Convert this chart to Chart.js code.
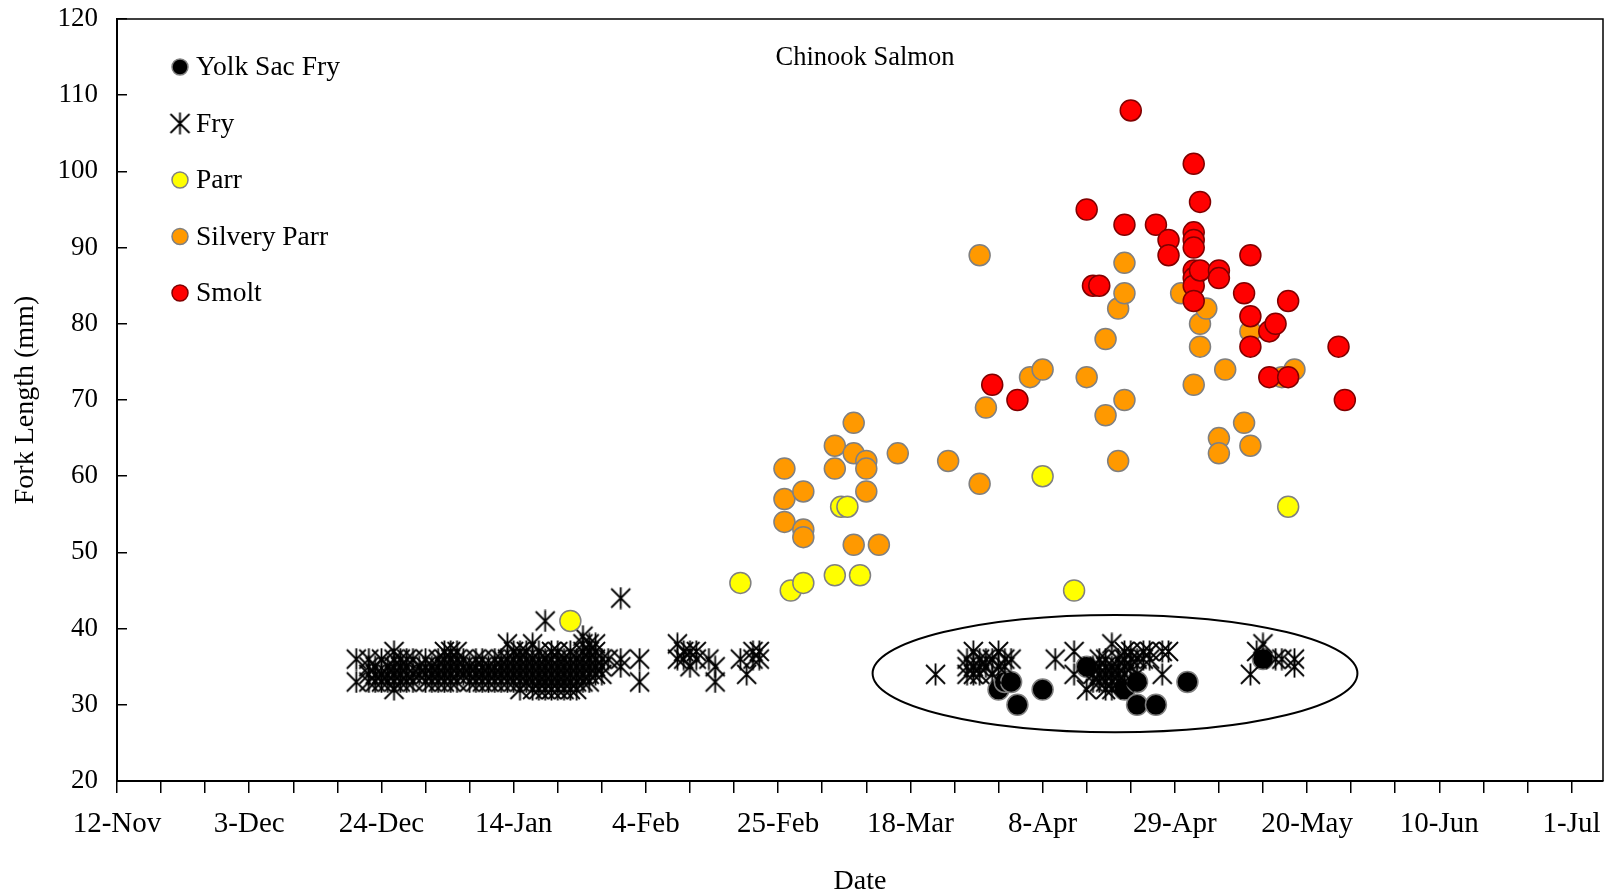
<!DOCTYPE html>
<html>
<head>
<meta charset="utf-8">
<title>Chinook Salmon fork length</title>
<script src="https://cdn.jsdelivr.net/npm/chart.js@4/dist/chart.umd.min.js"></script>
<style>
  html, body { margin: 0; padding: 0; background: #fff; }
</style>
</head>
<body>
<canvas id="lengthChart" width="1610" height="896"></canvas>
<script>
// x axis labels, one every three weeks from 12-Nov
const tickLabels = ["12-Nov", "3-Dec", "24-Dec", "14-Jan", "4-Feb", "25-Feb",
  "18-Mar", "8-Apr", "29-Apr", "20-May", "10-Jun", "1-Jul"];

// each row: capture date, fork lengths (mm) measured that day
const yolkSacFry = [
  ["1-Apr", [32]], ["2-Apr", [33]], ["3-Apr", [33]], ["4-Apr", [30]], ["8-Apr", [32]],
  ["15-Apr", [35]], ["21-Apr", [32]], ["23-Apr", [33, 30]], ["26-Apr", [30]],
  ["1-May", [33]], ["13-May", [36]]
];

const fry = [
  ["20-Dec", [36, 33]],
  ["22-Dec", [36, 35, 34, 33]],
  ["23-Dec", [35, 34, 33]],
  ["24-Dec", [36, 34, 33]],
  ["25-Dec", [35, 34, 33]],
  ["26-Dec", [37, 36, 35, 34, 33, 32]],
  ["27-Dec", [36, 35, 34, 33]],
  ["28-Dec", [36, 35, 34, 33]],
  ["29-Dec", [36, 34, 33]],
  ["30-Dec", [35, 34]],
  ["31-Dec", [36, 35, 34, 33]],
  ["1-Jan", [35, 34, 33]],
  ["2-Jan", [36, 35, 34, 33]],
  ["3-Jan", [37, 36, 35, 34, 33]],
  ["4-Jan", [37, 36, 35, 34, 33]],
  ["5-Jan", [37, 36, 35, 34, 33]],
  ["6-Jan", [36, 35, 34]],
  ["7-Jan", [35, 34, 33]],
  ["8-Jan", [36, 35, 34, 33]],
  ["9-Jan", [36, 35, 34, 33]],
  ["10-Jan", [35, 34, 33]],
  ["11-Jan", [36, 35, 34, 33]],
  ["12-Jan", [36, 35, 34, 33]],
  ["13-Jan", [38, 36, 35, 34, 33]],
  ["14-Jan", [37, 36, 35, 34, 33]],
  ["15-Jan", [37, 36, 35, 34, 33, 32]],
  ["16-Jan", [37, 36, 35, 34, 33]],
  ["17-Jan", [38, 36, 35, 34, 33, 32]],
  ["18-Jan", [37, 36, 35, 34, 33, 32]],
  ["19-Jan", [41, 36, 35, 34, 33, 32]],
  ["20-Jan", [37, 36, 35, 34, 33, 32]],
  ["21-Jan", [37, 36, 35, 34, 33, 32]],
  ["22-Jan", [36, 35, 34, 33, 32]],
  ["23-Jan", [37, 36, 35, 34, 33, 32]],
  ["24-Jan", [36, 35, 34, 33, 32]],
  ["25-Jan", [39, 38, 37, 36, 35, 34, 33]],
  ["26-Jan", [38, 37, 36, 35, 34, 33]],
  ["27-Jan", [38, 37, 36, 35, 34]],
  ["28-Jan", [36, 35, 34]],
  ["29-Jan", [36]],
  ["31-Jan", [44, 36, 35]],
  ["3-Feb", [36, 33]],
  ["9-Feb", [38, 36]],
  ["10-Feb", [37, 36]],
  ["11-Feb", [37, 35]],
  ["12-Feb", [37, 36]],
  ["14-Feb", [36]],
  ["15-Feb", [35, 33]],
  ["19-Feb", [36]],
  ["20-Feb", [34]],
  ["21-Feb", [37, 36]],
  ["22-Feb", [37, 36]],
  ["22-Mar", [34]],
  ["27-Mar", [36, 35, 34]],
  ["28-Mar", [37, 35, 34]],
  ["29-Mar", [36, 35, 34]],
  ["30-Mar", [36, 35]],
  ["31-Mar", [36, 34]],
  ["1-Apr", [37, 35]],
  ["2-Apr", [36, 35]],
  ["3-Apr", [36]],
  ["10-Apr", [36]],
  ["13-Apr", [37, 34]],
  ["15-Apr", [32]],
  ["16-Apr", [35, 34, 33]],
  ["17-Apr", [36, 35, 34, 33]],
  ["18-Apr", [36, 35, 34, 33, 32]],
  ["19-Apr", [38, 35, 34, 33, 32]],
  ["20-Apr", [36, 35, 34, 33]],
  ["21-Apr", [37, 36, 35, 34, 33]],
  ["22-Apr", [37, 36, 35]],
  ["23-Apr", [36, 34]],
  ["24-Apr", [37, 36]],
  ["25-Apr", [37, 36]],
  ["27-Apr", [37, 34]],
  ["28-Apr", [37]],
  ["11-May", [34]],
  ["12-May", [37]],
  ["13-May", [38]],
  ["15-May", [36]],
  ["16-May", [36]],
  ["18-May", [36, 35]]
];

const parr = [
  ["23-Jan", [41]], ["19-Feb", [46]], ["27-Feb", [45]], ["1-Mar", [46]], ["6-Mar", [47]],
  ["7-Mar", [56]], ["8-Mar", [56]], ["10-Mar", [47]], ["8-Apr", [60]], ["13-Apr", [45]],
  ["17-May", [56]]
];

const silveryParr = [
  ["26-Feb", [61, 57, 54]], ["1-Mar", [58, 53, 52]], ["6-Mar", [64, 61]],
  ["9-Mar", [67, 63, 51]], ["11-Mar", [62, 61, 58]], ["13-Mar", [51]], ["16-Mar", [63]],
  ["24-Mar", [62]], ["29-Mar", [89, 59]], ["30-Mar", [69]], ["6-Apr", [73]], ["8-Apr", [74]],
  ["15-Apr", [73]], ["18-Apr", [78, 68]], ["20-Apr", [82, 62]], ["21-Apr", [88, 84, 70]],
  ["30-Apr", [84]], ["2-May", [72]], ["3-May", [80, 77]], ["4-May", [82]], ["6-May", [65, 63]],
  ["7-May", [74]], ["10-May", [67]], ["11-May", [79, 64]], ["16-May", [73]], ["18-May", [74]]
];

const smolt = [
  ["31-Mar", [72]], ["4-Apr", [70]], ["15-Apr", [95]], ["16-Apr", [85]], ["17-Apr", [85]],
  ["21-Apr", [93]], ["22-Apr", [108]], ["26-Apr", [93]], ["28-Apr", [91, 89]],
  ["2-May", [101, 92, 91, 90, 87, 86, 85, 83]], ["3-May", [96, 87]], ["6-May", [87, 86]],
  ["10-May", [84]], ["11-May", [89, 81, 77]], ["14-May", [79, 73]], ["15-May", [80]],
  ["17-May", [83, 73]], ["25-May", [77]], ["26-May", [70]]
];

// ring drawn round the late fry / yolk sac group
const ringDates = ["12-Mar", "28-May"];
const ringLengths = [26.4, 41.8];

// dates -> days since 12-Nov
const MONTHS = { Jan: 0, Feb: 1, Mar: 2, Apr: 3, May: 4, Jun: 5, Jul: 6, Nov: 10, Dec: 11 };
const START = Date.UTC(2018, 10, 12);
function dayOf(label) {
  const [d, m] = label.split("-");
  const year = MONTHS[m] >= 10 ? 2018 : 2019;
  return Math.round((Date.UTC(year, MONTHS[m], +d) - START) / 86400000);
}
const toPoints = rows => rows.flatMap(([date, lens]) => lens.map(len => ({ x: dayOf(date), y: len })));

const FONT = "'Liberation Serif', 'Times New Roman', serif";

// asterisk marker for fry (x with a vertical bar)
const fryMark = document.createElement("canvas");
fryMark.width = 23;
fryMark.height = 23;
const fm = fryMark.getContext("2d");
fm.strokeStyle = "#000";
fm.lineWidth = 1.8;
fm.beginPath();
fm.moveTo(2, 2); fm.lineTo(21, 21);
fm.moveTo(21, 2); fm.lineTo(2, 21);
fm.moveTo(11.5, 0.5); fm.lineTo(11.5, 22.5);
fm.stroke();

// top/right box lines, the ring and the in-plot title
const plotDecor = {
  id: "plotDecor",
  afterDatasetsDraw(chart) {
    const { ctx, chartArea, scales } = chart;
    ctx.save();
    ctx.strokeStyle = "#000";
    ctx.lineWidth = 1.5;
    ctx.beginPath();
    ctx.moveTo(chartArea.left, chartArea.top);
    ctx.lineTo(chartArea.right, chartArea.top);
    ctx.lineTo(chartArea.right, chartArea.bottom);
    ctx.stroke();

    const x0 = scales.x.getPixelForValue(dayOf(ringDates[0]));
    const x1 = scales.x.getPixelForValue(dayOf(ringDates[1]));
    const y0 = scales.y.getPixelForValue(ringLengths[0]);
    const y1 = scales.y.getPixelForValue(ringLengths[1]);
    ctx.lineWidth = 2;
    ctx.beginPath();
    ctx.ellipse((x0 + x1) / 2, (y0 + y1) / 2, Math.abs(x1 - x0) / 2, Math.abs(y1 - y0) / 2, 0, 0, Math.PI * 2);
    ctx.stroke();

    ctx.fillStyle = "#000";
    ctx.font = "26.5px " + FONT;
    ctx.textAlign = "center";
    ctx.textBaseline = "middle";
    ctx.fillText("Chinook Salmon", (chartArea.left + chartArea.right) / 2 + 5, chartArea.top + 39);
    ctx.restore();
  }
};

// legend sitting inside the plot, top left
const insideLegend = {
  id: "insideLegend",
  afterDraw(chart) {
    const { ctx, chartArea } = chart;
    ctx.save();
    ctx.font = "27.5px " + FONT;
    ctx.textBaseline = "middle";
    chart.data.datasets.forEach((ds, i) => {
      const x = chartArea.left + 63;
      const y = chartArea.top + 48 + i * 56.5;
      ctx.fillStyle = ds.pointBackgroundColor;
      ctx.strokeStyle = ds.pointBorderColor;
      ctx.lineWidth = ds.pointBorderWidth;
      Chart.helpers.drawPoint(ctx, { pointStyle: ds.pointStyle, radius: 8, borderWidth: ds.pointBorderWidth, rotation: 0 }, x, y);
      ctx.fillStyle = "#000";
      ctx.fillText(ds.label, x + 16, y + 1);
    });
    ctx.restore();
  }
};

const circleSet = (label, rows, fill, edge, order) => ({
  label,
  data: toPoints(rows),
  pointStyle: "circle",
  pointRadius: 10.5,
  pointBackgroundColor: fill,
  pointBorderColor: edge,
  pointBorderWidth: 1.5,
  order
});

const yTickFont = { family: FONT, size: 27 };
const xTickFont = { family: FONT, size: 29 };
const titleFont = { family: FONT, size: 28, lineHeight: 1 };

new Chart(document.getElementById("lengthChart"), {
  type: "scatter",
  data: {
    datasets: [
      circleSet("Yolk Sac Fry", yolkSacFry, "#000000", "#808080", 5),
      {
        label: "Fry",
        data: toPoints(fry),
        pointStyle: fryMark,
        pointBackgroundColor: "#000",
        pointBorderColor: "#000",
        pointBorderWidth: 0,
        order: 4
      },
      circleSet("Parr", parr, "#FFFF00", "#808080", 3),
      circleSet("Silvery Parr", silveryParr, "#FF9900", "#808080", 2),
      circleSet("Smolt", smolt, "#FF0000", "#800000", 1)
    ]
  },
  options: {
    responsive: false,
    devicePixelRatio: 1,
    animation: false,
    events: [],
    layout: { autoPadding: false, padding: { top: 19, right: 7, left: 0, bottom: 0 } },
    plugins: {
      legend: { display: false },
      tooltip: { enabled: false }
    },
    scales: {
      x: {
        type: "linear",
        position: "bottom",
        min: 0,
        max: 236,
        afterBuildTicks: s => { s.ticks = s.ticks.filter(t => t.value % 7 === 0); },
        afterFit: s => {
          s.height = 115;
          s.paddingLeft = 0;
          s.paddingRight = 0;
        },
        border: { color: "#000", width: 2 },
        grid: { drawOnChartArea: false, color: "#000", lineWidth: 1.5, tickLength: 12 },
        ticks: {
          stepSize: 7,
          includeBounds: false,
          autoSkip: false,
          maxRotation: 0,
          padding: 14,
          color: "#000",
          font: xTickFont,
          callback: v => (v % 21 === 0 ? tickLabels[v / 21] : "")
        },
        title: { display: true, text: "Date", color: "#000", font: titleFont, padding: { top: 0, bottom: 0 } }
      },
      y: {
        min: 20,
        max: 120,
        afterFit: s => {
          s.width = 117;
          s.paddingTop = 0;
          s.paddingBottom = 0;
        },
        border: { color: "#000", width: 2 },
        grid: { drawOnChartArea: false, color: "#000", lineWidth: 1.5, tickLength: -10 },
        ticks: { stepSize: 10, padding: 29, color: "#000", font: yTickFont },
        title: { display: true, text: "Fork Length (mm)", color: "#000", font: titleFont, padding: { top: 12, bottom: 0 } }
      }
    }
  },
  plugins: [plotDecor, insideLegend]
});
</script>
</body>
</html>
